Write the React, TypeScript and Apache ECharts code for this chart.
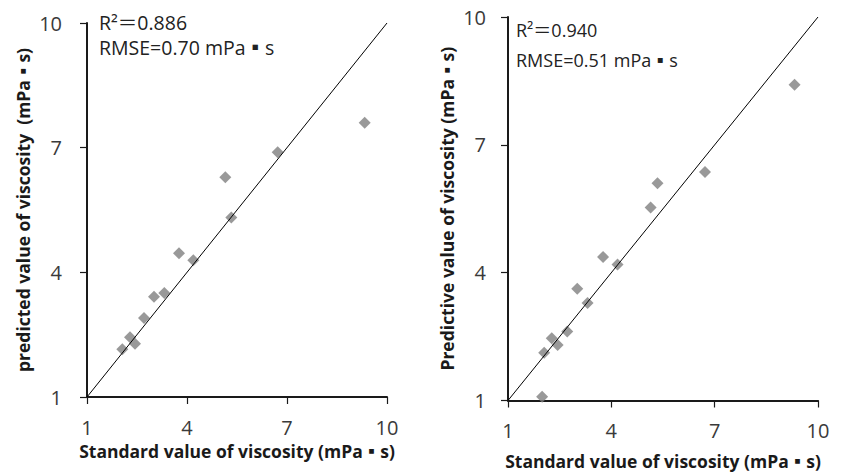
import React, { useEffect, useRef } from "react";
import * as echarts from "echarts";

const axisTicks = [1, 4, 7, 10];
const leftStandard = [9.33, 6.72, 5.15, 5.33, 3.76, 4.19, 3.01, 3.32, 2.71, 2.29, 2.44, 2.06];
const leftPredicted = [7.6, 6.89, 6.29, 5.32, 4.46, 4.29, 3.41, 3.5, 2.9, 2.44, 2.28, 2.15];
const rightStandard = [9.32, 6.72, 5.34, 5.14, 3.76, 4.18, 3.01, 3.31, 2.72, 2.27, 2.44, 2.05, 1.99];
const rightPredictive = [8.41, 6.36, 6.1, 5.53, 4.37, 4.19, 3.62, 3.29, 2.62, 2.46, 2.3, 2.12, 1.09];
const identityLine = [1, 10];
const leftAnnotations = ["R²＝0.886", "RMSE=0.70 mPa▪s"];
const rightAnnotations = ["R²＝0.940", "RMSE=0.51 mPa▪s"];
const xTitle = "Standard value of viscosity (mPa▪s)";
const leftYTitle = "predicted value of viscosity  (mPa▪s)";
const rightYTitle = "Predictive value of viscosity (mPa▪s)";

const FONT = '"Open Sans", "Noto Sans CJK SC", sans-serif';
const AXIS_COLOR = "#1a1a1a";
const LABEL_COLOR = "#3a3a3a";
const MARK_COLOR = "#7f7f7f";

function makeAxis(gridIndex: number, name: string, nameGap: number, labelMargin: number, nameSize: number) {
  return {
    type: "value",
    gridIndex,
    min: identityLine[0],
    max: identityLine[1],
    name,
    nameLocation: "middle",
    nameGap,
    nameTextStyle: { fontFamily: FONT, fontWeight: "bold", fontSize: nameSize, color: "#1a1a1a" },
    axisLine: { show: true, lineStyle: { color: AXIS_COLOR, width: 2 } },
    axisTick: { show: true, inside: false, length: 7, customValues: axisTicks, lineStyle: { color: AXIS_COLOR, width: 1.2 } },
    axisLabel: {
      customValues: axisTicks,
      margin: labelMargin,
      fontFamily: FONT,
      fontSize: 20,
      color: LABEL_COLOR,
      showMinLabel: true,
      showMaxLabel: true,
    },
    splitLine: { show: false },
  };
}

export default function App() {
  const ref = useRef<HTMLDivElement>(null);
  useEffect(() => {
    document.body.style.margin = "0";
    if (!ref.current) return;
    const chart = echarts.init(ref.current, null, { renderer: "svg" });
    const leftPts = leftStandard.map((x, i) => [x, leftPredicted[i]]);
    const rightPts = rightStandard.map((x, i) => [x, rightPredictive[i]]);
    const diag = identityLine.map((v) => [v, v]);
    chart.setOption({
      animation: false,
      backgroundColor: "#ffffff",
      grid: [
        { left: 87, top: 23, width: 300, height: 374 },
        { left: 508, top: 17, width: 310, height: 385 },
      ],
      xAxis: [makeAxis(0, xTitle, 38, 20, 17.5), makeAxis(1, xTitle, 52, 20, 17.5)],
      yAxis: [makeAxis(0, leftYTitle, 55, 25, 17.5), makeAxis(1, rightYTitle, 52, 22, 17.5)],
      series: [
        {
          type: "line",
          xAxisIndex: 0,
          yAxisIndex: 0,
          data: diag,
          symbol: "none",
          lineStyle: { color: "#000", width: 1 },
          silent: true,
        },
        {
          type: "scatter",
          xAxisIndex: 0,
          yAxisIndex: 0,
          data: leftPts,
          symbol: "diamond",
          symbolSize: 12,
          itemStyle: { color: MARK_COLOR },
        },
        {
          type: "line",
          xAxisIndex: 1,
          yAxisIndex: 1,
          data: diag,
          symbol: "none",
          lineStyle: { color: "#000", width: 1 },
          silent: true,
        },
        {
          type: "scatter",
          xAxisIndex: 1,
          yAxisIndex: 1,
          data: rightPts,
          symbol: "diamond",
          symbolSize: 12,
          itemStyle: { color: MARK_COLOR },
        },
      ],
      graphic: [
        { type: "text", left: 99, top: 13, style: { text: leftAnnotations[0], fontFamily: FONT, fontSize: 19.5, fill: "#222" } },
        { type: "text", left: 99, top: 38, style: { text: leftAnnotations[1], fontFamily: FONT, fontSize: 19.5, fill: "#222" } },
        { type: "text", left: 516, top: 21, style: { text: rightAnnotations[0], fontFamily: FONT, fontSize: 18, fill: "#222" } },
        { type: "text", left: 516, top: 51, style: { text: rightAnnotations[1], fontFamily: FONT, fontSize: 18, fill: "#222" } },
      ],
    });
    return () => chart.dispose();
  }, []);
  return <div ref={ref} style={{ width: 848, height: 475 }} />;
}
